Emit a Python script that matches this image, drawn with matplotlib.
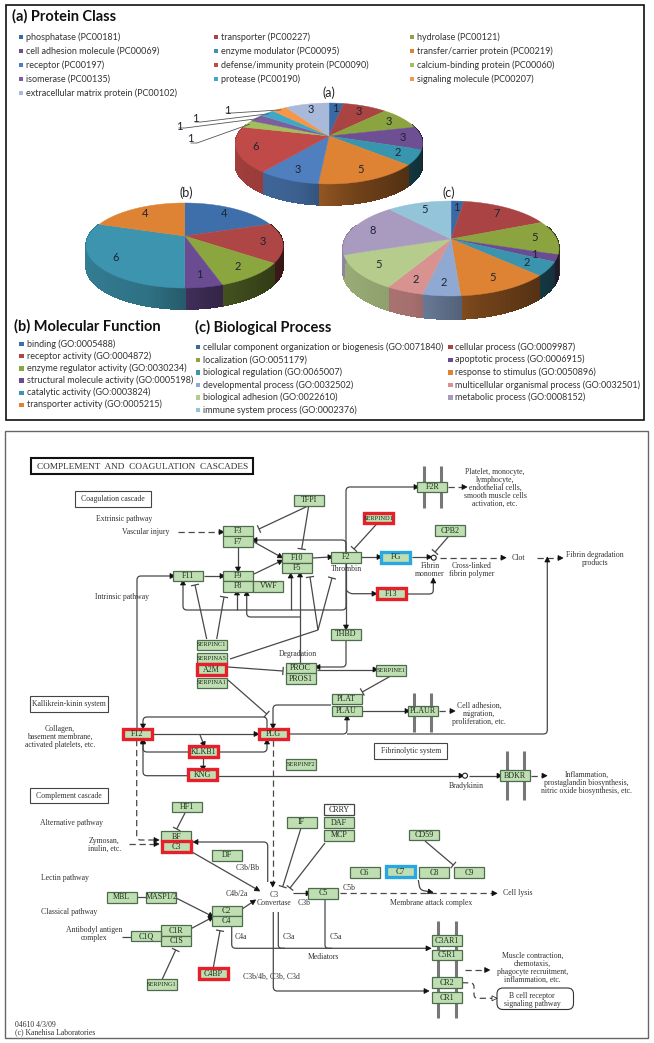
import numpy as np
import matplotlib
matplotlib.use('Agg')
import matplotlib.pyplot as plt
from matplotlib.patches import Rectangle, Circle, PathPatch, FancyBboxPatch
from matplotlib.path import Path

# Pie data
class_names = ['phosphatase (PC00181)', 'transporter (PC00227)', 'hydrolase (PC00121)',
               'cell adhesion molecule (PC00069)', 'enzyme modulator (PC00095)', 'transfer/carrier protein (PC00219)',
               'receptor (PC00197)', 'defense/immunity protein (PC00090)', 'calcium-binding protein (PC00060)',
               'isomerase (PC00135)', 'protease (PC00190)', 'signaling molecule (PC00207)',
               'extracellular matrix protein (PC00102)']
class_values = [1, 3, 3, 3, 2, 5, 3, 6, 1, 1, 1, 1, 3]
class_colors = ['#3A6AA5', '#A94442', '#8BA43F', '#6F4F93', '#3795AE', '#DE8233', '#4F7FBE',
                '#BF4A48', '#A3BE5C', '#7D5FA0', '#3FA8C5', '#F79646', '#A9B9DA']

function_names = ['binding (GO:0005488)', 'receptor activity (GO:0004872)', 'enzyme regulator activity (GO:0030234)',
                  'structural molecule activity (GO:0005198)', 'catalytic activity (GO:0003824)',
                  'transporter activity (GO:0005215)']
function_values = [4, 3, 2, 1, 6, 4]
function_colors = ['#3F6FAA', '#AD4644', '#8BA63F', '#6A4C93', '#3D94AE', '#DE8233']

process_names = ['cellular component organization or biogenesis (GO:0071840)', 'cellular process (GO:0009987)',
                 'localization (GO:0051179)', 'apoptotic process (GO:0006915)',
                 'biological regulation (GO:0065007)', 'response to stimulus (GO:0050896)',
                 'developmental process (GO:0032502)', 'multicellular organismal process (GO:0032501)',
                 'biological adhesion (GO:0022610)', 'metabolic process (GO:0008152)',
                 'immune system process (GO:0002376)']
process_values = [1, 7, 5, 1, 2, 5, 2, 2, 5, 8, 5]
process_colors = ['#3A6AA5', '#AA4444', '#8BA43F', '#6A4C93', '#3A94AE', '#DE8233', '#8FA9D2',
                  '#D89290', '#B6CC8C', '#A99BC0', '#93C4D9']

# Pathway boxes: name, centre x, centre y
plain_nodes = [('TFPI', 309.3, 500.3), ('F3', 238.3, 531.3), ('F7', 238.3, 541.7), ('F10', 296.7, 558),
               ('F5', 296.7, 568), ('F11', 188.3, 576), ('F9', 238.3, 576), ('F8', 238.3, 586.3),
               ('VWF', 268.3, 586.3), ('SERPINC1', 211.7, 645), ('SERPINA5', 211.7, 658), ('SERPINA1', 211.7, 683),
               ('PROC', 300.7, 668.3), ('PROS1', 300.7, 678.7), ('F2R', 432.3, 487), ('CPB2', 450, 530.7),
               ('F2', 346, 557.3), ('THBD', 346, 634.3), ('SERPINE1', 391.3, 670.3), ('PLAT', 346.7, 699),
               ('PLAU', 346.7, 711), ('PLAUR', 423.3, 711), ('SERPINF2', 300.7, 764.3), ('HF1', 187.3, 807),
               ('BF', 176.3, 836.7), ('DF', 226.7, 855.3), ('IF', 301.7, 822.3), ('DAF', 339, 822.7),
               ('MCP', 339, 835.3), ('CD59', 424.3, 835), ('C6', 364.7, 872.7), ('C8', 434.3, 872.7),
               ('C9', 469, 872.7), ('C5', 323.3, 893.3), ('MBL', 121.7, 897.3), ('MASP1/2', 161.3, 897.3),
               ('C2', 226.7, 911), ('C4', 226.7, 921), ('C1R', 176.3, 930.7), ('C1S', 176.3, 941),
               ('C1Q', 146, 936), ('SERPING1', 161.7, 984.3), ('C3AR1', 446.7, 940.7), ('C5R1', 446.7, 955),
               ('CR2', 446.7, 982.7), ('CR1', 446.7, 997.7), ('BDKR', 515.3, 775.7)]
red_nodes = [('SERPIND1', 378.3, 518), ('A2M', 211.7, 669.7), ('F13', 391, 593.7), ('F12', 137.3, 734),
             ('PLG', 273.3, 734), ('KLKB1', 203.3, 751.7), ('KNG', 202.7, 774.7), ('C3', 176.3, 846.7),
             ('C4BP', 213.3, 973.7)]
blue_nodes = [('FG', 395.7, 557.3), ('C7', 400, 871.7)]

# Pathway links
arrows = [[(254, 542), (281, 557)], [(238, 547), (238, 570)], [(254, 574), (281, 561)], [(204, 576), (223, 576)],
          [(312, 558), (331, 557)], [(346, 552), (346, 540), (254, 540)], [(346, 552), (346, 487), (417, 487)],
          [(137, 728), (137, 576), (173, 576)], [(346, 563), (346, 610), (183, 610), (183, 582)],
          [(237, 610), (237, 592)], [(290.7, 610), (290.7, 575)], [(300, 617), (246.7, 617), (246.7, 592.7)],
          [(300, 663), (300, 574)], [(346, 640), (346, 667), (317, 667)], [(317, 669.5), (376, 669.5)],
          [(346, 563), (346, 628)], [(361, 557), (380, 557)], [(412, 557), (430, 557)],
          [(346, 590), (350, 593.7), (375, 593.7)], [(407, 594), (433.3, 594), (433.3, 580)],
          [(362, 711), (408, 711)], [(290, 734), (347, 734), (347, 717)],
          [(347, 734), (547.3, 734), (547.3, 559)], [(331, 705), (273, 705), (273, 727)],
          [(267, 728), (267, 717), (143, 717), (143, 727)], [(153, 734), (257, 734)], [(200, 735), (204, 745)],
          [(188, 752), (143, 752), (143, 740)], [(220, 752), (267, 752), (267, 741)], [(203, 757), (203, 769)],
          [(187, 775.7), (143, 775.7), (143, 741)], [(218, 775.7), (462, 775.7)], [(468.5, 775.7), (500, 775.7)],
          [(192, 852), (258, 890)], [(267.7, 882), (267.7, 842), (195, 842)], [(176.7, 898.3), (211.7, 916)],
          [(191.7, 928.3), (211.7, 917.7)], [(241.7, 909.3), (254, 901)],
          [(231.7, 927), (231.7, 948.3), (429, 948.3)], [(273.3, 912), (273.3, 991), (427, 991)],
          [(292.7, 893.3), (309, 893.3)], [(418.3, 880), (420, 890), (431, 892)]]
dashed_arrows = [[(178, 532), (222, 532)], [(440, 557.7), (504, 557.7)], [(448, 487), (465, 487)],
                 [(439, 711), (453, 711)], [(537, 558), (561, 558)], [(531, 775.7), (545, 775.7)],
                 [(136.7, 740), (136.7, 840), (157, 840)], [(129, 844), (157, 844)], [(272.7, 740), (272.7, 885)],
                 [(340, 893.3), (495, 893.3)], [(465, 970), (487.7, 970)]]
inhibits = [[(308, 506), (259, 529)], [(308.7, 506), (301.7, 549)], [(318, 630), (310, 577)], [(318, 630), (332, 578)],
            [(206.7, 639), (195, 585)], [(216.7, 639), (224, 597)], [(228, 667), (283, 671)],
            [(228, 680), (266.7, 714)], [(448.3, 536.7), (435, 552)], [(376.7, 524), (354, 549)],
            [(390.7, 676), (362.3, 692)], [(185, 813), (176.7, 829)], [(301, 828), (282.7, 886.7)],
            [(325, 843), (290, 888)], [(162.3, 979), (175.7, 950)], [(213.3, 967.7), (220, 930.7)],
            [(425, 841), (453.3, 865)]]
plain_links = [[(230, 659), (318, 630)], [(137, 897), (146, 897)], [(121.7, 936.7), (131.7, 936.7)],
               [(278.3, 912), (278.3, 948.3), (285, 948.3)], [(325, 899), (325, 948.3), (332, 948.3)]]

# Pathway text: text, centre x, centre y
pathway_texts = [('Extrinsic pathway', 123.7, 519.3), ('Vascular injury', 146, 532), ('Intrinsic pathway', 122.3, 596.7),
                 ('Degradation', 298.3, 654), ('Collagen,\nbasement membrane,\nactivated platelets, etc.', 60, 736.7),
                 ('Platelet, monocyte,\nlymphocyte,\nendothelial cells,\nsmooth muscle cells\nactivation, etc.', 495, 488),
                 ('Thrombin', 346, 569.3), ('Fibrin\nmonomer', 430, 570), ('Cross-linked\nfibrin polymer', 471.7, 570),
                 ('Clot', 518.3, 558), ('Fibrin degradation\nproducts', 595, 559),
                 ('Cell adhesion,\nmigration,\nproliferation, etc.', 479.3, 713.7), ('Bradykinin', 466, 785.7),
                 ('Inflammation,\nprostaglandin biosynthesis,\nnitric oxide biosynthesis, etc.', 586.7, 782.7),
                 ('Cell lysis', 517.7, 893.3), ('Membrane attack complex', 430.7, 902.7), ('C5b', 349.3, 887.7),
                 ('C5a', 335.7, 937.3), ('Muscle contraction,\nchemotaxis,\nphagocyte recruitment,\ninflammation, etc.', 532.3, 968.3),
                 ('B cell receptor\nsignaling pathway', 532.3, 999.7), ('Alternative pathway', 71.7, 823),
                 ('Zymosan,\ninulin, etc.', 104.3, 845), ('Lectin pathway', 65.3, 878.3), ('Classical pathway', 69.3, 912.3),
                 ('Antibodyl antigen\ncomplex', 94, 934.3), ('C3b/Bb', 247.7, 868.3), ('C4b/2a', 236.7, 894.3),
                 ('C3\nConvertase', 274, 899), ('C3b', 304, 903), ('C4a', 240.7, 937.3), ('C3a', 289, 937.3),
                 ('Mediators', 323, 956.7), ('C3b/4b, C3b, C3d', 271.7, 977)]
boxed_texts = [('Coagulation cascade', 75.3, 491.3, 76, 15.4), ('Kallikrein-kinin system', 30, 696, 77.7, 15.7),
               ('Fibrinolytic system', 374.3, 743.3, 73, 15.7), ('Complement cascade', 30, 787.7, 77.7, 15.6)]

sans = 'Lato'
serif = 'Liberation Serif'
link_color = '#484848'

fig = plt.figure(figsize=(6.54, 10.43), dpi=100)
ax = fig.add_axes([0, 0, 1, 1])
ax.set_xlim(0, 654)
ax.set_ylim(1043, 0)
ax.axis('off')


def shade(color, f):
    return tuple(np.array(matplotlib.colors.to_rgb(color)) * f)


def pie3d(values, colors, cx, cy, R, S, k, depth, rho=0.8):
    # perspective pie, clockwise from the top
    def project(t, r=1.0):
        X, Y = r * np.sin(t), r * np.cos(t)
        w = 1 + k * Y
        return cx + R * X / w, cy - S * Y / w

    edges = np.cumsum([0] + list(values)) / sum(values) * 2 * np.pi
    # side wall
    for i, col in enumerate(colors):
        ts = np.arange(edges[i], edges[i + 1] + 0.012, 0.012)
        ts = np.minimum(ts, edges[i + 1])
        for t0, t1 in zip(ts[:-1], ts[1:]):
            if np.cos(t0) > 0.3:
                continue
            x0, y0 = project(t0)
            x1, y1 = project(t1)
            f = np.interp(np.sin(t0), [-1, -0.3, 0.2, 1], [0.85, 0.76, 0.52, 0.3])
            ax.fill([x0, x1, x1, x0], [y0, y1, y1 + depth, y0 + depth], color=shade(col, f), lw=0.6,
                    antialiased=False, zorder=2)
    # top face
    for i, col in enumerate(colors):
        ts = np.linspace(edges[i], edges[i + 1], 40)
        xs, ys = project(ts)
        ax.fill(np.r_[cx, xs], np.r_[cy, ys], color=col, lw=0.3, zorder=3)
    # value labels
    for i, v in enumerate(values):
        if v == 1 and len(values) == 13 and i > 0:
            continue
        x, y = project((edges[i] + edges[i + 1]) / 2, rho)
        ax.text(x, y, str(v), fontsize=8, family=sans, color='#1c2433', ha='center', va='center', zorder=4)
    return project, edges


def legend(names, colors, xs, ys):
    for n, (name, col) in enumerate(zip(names, colors)):
        col_i = n % len(xs)
        row = n // len(xs)
        x, y = xs[col_i], ys[row]
        ax.add_patch(Rectangle((x - 7.5, y - 2.2), 4.6, 4.6, color=col, lw=0))
        ax.text(x, y, name, fontsize=6.45, family=sans, color='#333333', ha='left', va='center')


# top panel
ax.add_patch(Rectangle((6, 5), 638, 415, fc='white', ec='#111111', lw=1.2))
ax.text(12, 16, '(a) Protein Class', fontsize=10.5, family=sans, weight='bold', color='#111111', va='center')
ax.text(14, 326, '(b) Molecular Function', fontsize=10.5, family=sans, weight='bold', color='#111111', va='center')
ax.text(195, 327.7, '(c) Biological Process', fontsize=10.5, family=sans, weight='bold', color='#111111', va='center')
ax.text(329, 92.7, '(a)', fontsize=9, family=sans, color='#222222', ha='center', va='center')
ax.text(186.7, 192.7, '(b)', fontsize=9, family=sans, color='#222222', ha='center', va='center')
ax.text(449, 192.7, '(c)', fontsize=9, family=sans, color='#222222', ha='center', va='center')

legend(class_names, class_colors, [26, 221, 417], [37, 51, 65, 79, 93])
legend(function_names, function_colors, [26.7], [344, 356, 368.3, 380.3, 392.7, 404.7])
legend(process_names, process_colors, [203.3, 455.4], [347, 359.7, 372.3, 385, 397.3, 410])

pie3d(function_values, function_colors, 184.6, 236, 96, 40.4, 0.2236, 21)
pie3d(process_values, process_colors, 451, 239, 105.8, 45.6, 0.2, 23)
project, edges = pie3d(class_values, class_colors, 329, 136, 91.9, 39.1, 0.185, 21)

# leader lines for the small slices of pie (a)
leaders = [(8, 190, 139, 197, 143), (9, 179, 126, 185, 128), (10, 195, 119, 201, 122), (11, 227, 110, 232, 113)]
for idx, lx, ly, ex, ey in leaders:
    px, py = project((edges[idx] + edges[idx + 1]) / 2, 0.97)
    ax.plot([ex - 6, ex, px], [ey, ey, py], color='#555555', lw=0.6, zorder=5)
    ax.text(lx, ly, '1', fontsize=8, family=sans, color='#1c2433', ha='center', va='center', zorder=5)

# bottom panel
ax.add_patch(Rectangle((5, 431), 643, 607, fc='white', ec='#666666', lw=1.0))
ax.add_patch(Rectangle((31, 458.3), 222.3, 16, fc='white', ec='#111111', lw=1.5))
ax.text(142.7, 466.7, 'COMPLEMENT  AND  COAGULATION  CASCADES', fontsize=6.7, family=serif, color='#333333',
        ha='center', va='center')

for text, x, y, w, h in boxed_texts:
    ax.add_patch(Rectangle((x, y), w, h, fc='white', ec='#444444', lw=0.8))
    ax.text(x + w / 2, y + h / 2, text, fontsize=5.6, family=serif, color='#333333', ha='center', va='center')

for text, x, y in pathway_texts:
    ax.text(x, y, text, fontsize=5.6, family=serif, color='#333333', ha='center', va='center', linespacing=1.0)
ax.text(15, 1025.3, '04610 4/3/09', fontsize=5.6, family=serif, color='#333333', va='center')
ax.text(15, 1032, '(c) Kanehisa Laboratories', fontsize=5.6, family=serif, color='#333333', va='center')

# membrane bars
for x0, x1, y0, y1 in [(423.7, 441, 466, 507.7), (413.7, 431, 692.7, 731.7), (506.7, 524, 751, 800), (438.3, 455.7, 921, 1017.7)]:
    for x in (x0, x1):
        ax.plot([x, x], [y0, y1], color='#777777', lw=2.2, solid_capstyle='butt', zorder=1)


def route(points, dashed=False):
    # polyline with rounded corners
    verts = [points[0]]
    codes = [Path.MOVETO]
    for i in range(1, len(points) - 1):
        p = np.array(points[i], float)
        a = np.array(points[i - 1], float)
        b = np.array(points[i + 1], float)
        r = min(4, np.hypot(*(p - a)) / 2, np.hypot(*(p - b)) / 2)
        p0 = p + (a - p) / np.hypot(*(a - p)) * r
        p1 = p + (b - p) / np.hypot(*(b - p)) * r
        verts += [tuple(p0), tuple(p), tuple(p1)]
        codes += [Path.LINETO, Path.CURVE3, Path.CURVE3]
    verts.append(points[-1])
    codes.append(Path.LINETO)
    ls = (0, (5, 3)) if dashed else '-'
    ax.add_patch(PathPatch(Path(verts, codes), fc='none', ec=link_color, lw=0.9, ls=ls, zorder=2))


def head(points, open_head=False):
    p = np.array(points[-1], float)
    d = p - np.array(points[-2], float)
    d = d / np.hypot(*d)
    n = np.array([-d[1], d[0]])
    tri = [p + d * 2, p - d * 3 + n * 2.5, p - d * 3 - n * 2.5]
    ax.fill(*zip(*tri), fc='white' if open_head else '#111111', ec='#111111', lw=0.5, zorder=4)


def bar(points):
    p = np.array(points[-1], float)
    d = p - np.array(points[-2], float)
    d = d / np.hypot(*d)
    n = np.array([-d[1], d[0]])
    a, b = p + n * 3.5, p - n * 3.5
    ax.plot([a[0], b[0]], [a[1], b[1]], color=link_color, lw=0.9, zorder=2)


for pts in arrows:
    route(pts)
    head(pts)
for pts in dashed_arrows:
    route(pts, dashed=True)
    head(pts)
for pts in inhibits:
    route(pts)
    bar(pts)
for pts in plain_links:
    route(pts)
cr2_link = [(462, 982.7), (474, 983), (474, 998.3), (495, 998.3)]
route(cr2_link, dashed=True)
head(cr2_link, open_head=True)
ax.add_patch(Circle((433.7, 557.7), 2.5, fc='white', ec='#222222', lw=0.8, zorder=4))
ax.add_patch(Circle((465, 775.7), 2.5, fc='white', ec='#222222', lw=0.8, zorder=4))
ax.add_patch(FancyBboxPatch((500, 991), 70.5, 15.5, boxstyle='round,pad=3,rounding_size=6', fc='white', ec='#333333',
                            lw=0.8, zorder=2))


def node(name, x, y, ec='#4E6B4E', lw=0.9, fc='#BFDFB2', w=30, h=10.6):
    ax.add_patch(Rectangle((x - w / 2, y - h / 2), w, h, fc=fc, ec=ec, lw=lw, zorder=5))
    fs = 4.6 if len(name) >= 7 and name != 'MASP1/2' else 5.8
    ax.text(x, y, name, fontsize=fs, family=serif, color='#1d2b1d', ha='center', va='center', zorder=6)


for name, x, y in plain_nodes:
    node(name, x, y)
node('CRRY', 339, 809.7, fc='white', ec='#444444')
for name, x, y in red_nodes:
    node(name, x, y, ec='#E5202A', lw=2.4, w=29)
for name, x, y in blue_nodes:
    node(name, x, y, ec='#2AA6E0', lw=2.4, w=29)

fig.savefig('out.png', dpi=100)
